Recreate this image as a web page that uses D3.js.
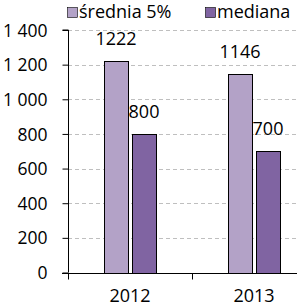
<!DOCTYPE html>
<html>
<head>
<meta charset="utf-8">
<script src="https://cdn.jsdelivr.net/npm/d3@7"></script>
<style>
  html, body { margin: 0; padding: 0; background: #fff; }
  svg text { font-family: "Open Sans", sans-serif; fill: #000; }
</style>
</head>
<body>
<div id="chart"></div>
<script>
// chart data
const years = ['2012', '2013'];
const seriesNames = ['średnia 5%', 'mediana'];
const seriesColors = ['#B3A2C7', '#8064A2'];
const srednia = [1222, 1146];
const mediana = [800, 700];
const yTicks = [0, 200, 400, 600, 800, 1000, 1200, 1400];

const width = 297, height = 305;
const margin = { top: 30, left: 68, bottom: 33 };
const plotRight = 316; // plot runs past the visible edge

const svg = d3.select('#chart').append('svg')
  .attr('width', width)
  .attr('height', height);

const y = d3.scaleLinear()
  .domain([0, 1400])
  .range([height - margin.bottom + 0.5, margin.top]);

const x = d3.scaleBand()
  .domain(years)
  .range([margin.left, plotRight])
  .paddingInner(0).paddingOuter(0);

const xs = d3.scaleBand()
  .domain(seriesNames)
  .range([36, 88])
  .paddingInner(4 / 28);

const fmt = d => d3.format(',')(d).replace(',', '\u00a0');

// gridlines
svg.append('g')
  .selectAll('line')
  .data(yTicks.filter(t => t > 0))
  .enter().append('line')
  .attr('x1', margin.left).attr('x2', width)
  .attr('y1', d => Math.round(y(d)) + 0.5)
  .attr('y2', d => Math.round(y(d)) + 0.5)
  .attr('stroke', '#BFBFBF')
  .attr('stroke-width', 1)
  .attr('stroke-dasharray', '4,3');

// bars
const data = years.map((yr, i) => ({ year: yr, values: [srednia[i], mediana[i]] }));

const groups = svg.selectAll('.grp')
  .data(data)
  .enter().append('g')
  .attr('class', 'grp')
  .attr('transform', d => `translate(${x(d.year)},0)`);

groups.selectAll('rect')
  .data(d => d.values.map((v, j) => ({ name: seriesNames[j], value: v, j })))
  .enter().append('rect')
  .attr('x', d => Math.round(xs(d.name)) + 0.5)
  .attr('y', d => Math.round(y(d.value)) + 0.5)
  .attr('width', xs.bandwidth())
  .attr('height', d => Math.round(y(0)) - Math.round(y(d.value)))
  .attr('fill', d => seriesColors[d.j])
  .attr('stroke', '#000')
  .attr('stroke-width', 1);

groups.selectAll('.val')
  .data(d => d.values.map((v, j) => ({ name: seriesNames[j], value: v })))
  .enter().append('text')
  .attr('class', 'val')
  .attr('x', d => xs(d.name) + xs.bandwidth() / 2)
  .attr('y', d => y(d.value) - 16)
  .attr('text-anchor', 'middle')
  .style('font-size', '18px')
  .text(d => d.value);

// y axis
const yAxis = svg.append('g')
  .attr('transform', `translate(${margin.left + 0.5},0)`)
  .call(d3.axisLeft(y).tickValues(yTicks).tickSize(6).tickPadding(15).tickFormat(fmt));
yAxis.select('.domain').attr('stroke', '#000').attr('d', `M-6,${y(1400)}H0V${y(0)}`);
yAxis.selectAll('.tick line').attr('stroke', '#000');
yAxis.selectAll('text').style('font-size', '17.5px').attr('dy', '0.35em');

// x axis
const xAxis = svg.append('g')
  .attr('transform', `translate(0,${Math.round(y(0)) + 0.5})`);
xAxis.append('line')
  .attr('x1', margin.left - 6).attr('x2', width)
  .attr('stroke', '#000');
xAxis.selectAll('.tk')
  .data([margin.left, ...years.map(d => x(d) + x.bandwidth())])
  .enter().append('line')
  .attr('x1', d => Math.round(d) + 0.5).attr('x2', d => Math.round(d) + 0.5)
  .attr('y1', 0).attr('y2', 6)
  .attr('stroke', '#000');
xAxis.selectAll('.yr')
  .data(years)
  .enter().append('text')
  .attr('x', d => x(d) + xs(seriesNames[0]) + xs.step() - 2)
  .attr('y', 28.5)
  .attr('text-anchor', 'middle')
  .style('font-size', '18px')
  .text(d => d);

// legend
const legendX = [67, 205];
const legend = svg.selectAll('.leg')
  .data(seriesNames)
  .enter().append('g')
  .attr('class', 'leg')
  .attr('transform', (d, i) => `translate(${legendX[i]},7)`);
legend.append('rect')
  .attr('x', 0.5).attr('y', 0.5)
  .attr('width', 10).attr('height', 10)
  .attr('fill', (d, i) => seriesColors[i])
  .attr('stroke', '#000')
  .attr('stroke-width', 0.6);
legend.append('text')
  .attr('x', 12)
  .attr('y', 11)
  .style('font-size', '18px')
  .text(d => d);
</script>
</body>
</html>
